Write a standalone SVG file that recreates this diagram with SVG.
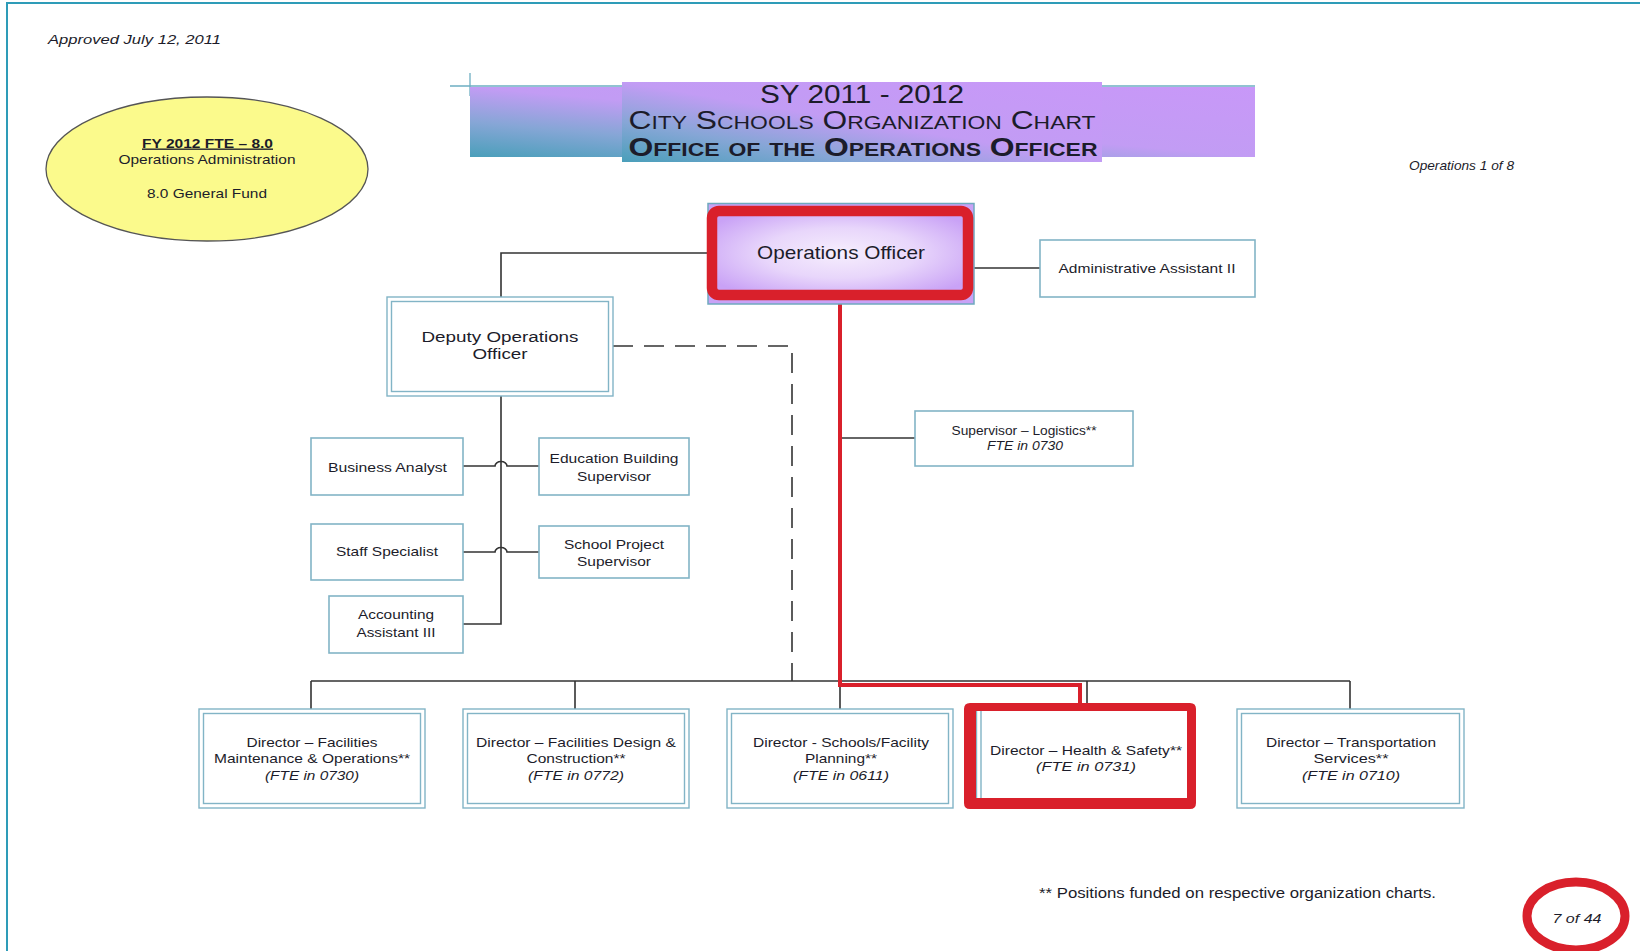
<svg xmlns="http://www.w3.org/2000/svg" width="1640" height="951" viewBox="0 0 1640 951">
<defs>
<linearGradient id="banner" x1="0" y1="1" x2="1" y2="0">
<stop offset="0" stop-color="#4a9fba"/>
<stop offset="0.25" stop-color="#86a6d6"/>
<stop offset="0.5" stop-color="#c29cf4"/>
<stop offset="1" stop-color="#c898f8"/>
</linearGradient>
<radialGradient id="opsfill" cx="0.5" cy="0.5" r="0.6">
<stop offset="0" stop-color="#f6eefd"/>
<stop offset="0.5" stop-color="#e8d6fb"/>
<stop offset="1" stop-color="#c9a2f6"/>
</radialGradient>
<style>
text{font-family:"Liberation Sans",Arial,sans-serif;fill:#1c1c2a;}
.t{font-size:13.5px;text-anchor:middle;}
.i{font-style:italic;}
.box{fill:#fff;stroke:#82b4c6;stroke-width:1.6;}
.dbl{fill:none;stroke:#82b4c6;stroke-width:1.4;}
.ln{fill:none;stroke:#333;stroke-width:1.6;}
.red{fill:none;stroke:#d9202b;}
</style>
</defs>
<rect width="1640" height="951" fill="#fff"/>
<!-- page border -->
<path d="M7,951 V3 H1640" fill="none" stroke="#2e9cb8" stroke-width="2"/>

<text x="48" y="43.5" class="i" font-size="13.5" textLength="173" lengthAdjust="spacingAndGlyphs">Approved July 12, 2011</text>
<text x="1409" y="170" class="i" font-size="13" textLength="105" lengthAdjust="spacingAndGlyphs">Operations 1 of 8</text>

<g id="fte-ellipse">
<ellipse cx="207" cy="169" rx="161" ry="72" fill="#fbfa8c" stroke="#555" stroke-width="1.3"/>
<text x="207.5" y="147.5" class="t" font-weight="bold" text-decoration="underline" textLength="131" lengthAdjust="spacingAndGlyphs">FY 2012 FTE – 8.0</text>
<text x="207" y="164" class="t" textLength="177" lengthAdjust="spacingAndGlyphs">Operations Administration</text>
<text x="207" y="198" class="t" textLength="120" lengthAdjust="spacingAndGlyphs">8.0 General Fund</text>
</g>

<g id="title">
<path d="M450,86 H1255 M470,73 V96" fill="none" stroke="#6eaec2" stroke-width="1.3"/>
<rect x="470" y="87" width="785" height="70" fill="url(#banner)"/>
<rect x="622" y="82" width="480" height="80" fill="url(#banner)"/>
<text x="862" y="102.5" font-size="25" text-anchor="middle" textLength="204" lengthAdjust="spacingAndGlyphs">SY 2011 - 2012</text>
<text x="862" y="128.5" font-size="25" text-anchor="middle" font-variant="small-caps" textLength="467" lengthAdjust="spacingAndGlyphs">City Schools Organization Chart</text>
<text x="863" y="156" font-size="25" font-weight="bold" text-anchor="middle" font-variant="small-caps" textLength="469" lengthAdjust="spacingAndGlyphs">Office of the Operations Officer</text>
</g>

<g id="connectors">
<path class="ln" d="M707,253 H501 V297"/>
<path class="ln" d="M974,268 H1040"/>
<path class="ln" d="M501,396 V624 H463"/>
<path class="ln" d="M463,466 H495 a6,4.5 0 0 1 12,0 H539"/>
<path class="ln" d="M463,552 H495 a6,4.5 0 0 1 12,0 H539"/>
<path class="ln" d="M840,438 H915"/>
<path class="ln" d="M613,346 H792 V681" stroke-dasharray="20,11"/>
<path class="ln" d="M311,681 H1350 M311,681 V709 M575,681 V709 M840,681 V709 M1087,681 V704 M1350,681 V709"/>
<path class="red" stroke-width="4" d="M840,300 V685 H1080 V704"/>
</g>

<g id="ops-officer">
<rect x="708" y="203.5" width="266" height="100.5" fill="#c9a2f6" stroke="#6fa9bf" stroke-width="1.5"/>
<rect x="712" y="211" width="256" height="84" rx="7" fill="url(#opsfill)" stroke="#d9202b" stroke-width="10.5"/>
<text x="841" y="259" font-size="19" text-anchor="middle" textLength="168" lengthAdjust="spacingAndGlyphs">Operations Officer</text>
</g>

<g id="admin-assistant">
<rect class="box" x="1040" y="240" width="215" height="57"/>
<text x="1147" y="273" class="t" textLength="177" lengthAdjust="spacingAndGlyphs">Administrative Assistant II</text>
</g>

<g id="deputy">
<rect class="dbl" x="387" y="297" width="226" height="99"/>
<rect class="dbl" x="391.5" y="301.5" width="217" height="90"/>
<text x="500" y="342" font-size="15.5" text-anchor="middle" textLength="157" lengthAdjust="spacingAndGlyphs">Deputy Operations</text>
<text x="500" y="359" font-size="15.5" text-anchor="middle" textLength="55" lengthAdjust="spacingAndGlyphs">Officer</text>
</g>

<g id="logistics">
<rect class="box" x="915" y="411" width="218" height="55"/>
<text x="1024" y="435" font-size="12.5" text-anchor="middle" textLength="145" lengthAdjust="spacingAndGlyphs">Supervisor – Logistics**</text>
<text x="1025" y="450" font-size="12.5" text-anchor="middle" class="i" textLength="76" lengthAdjust="spacingAndGlyphs">FTE in 0730</text>
</g>

<g id="business-analyst">
<rect class="box" x="311" y="438" width="152" height="57"/>
<text x="387.5" y="472" class="t" textLength="119" lengthAdjust="spacingAndGlyphs">Business Analyst</text>
</g>

<g id="edu-building">
<rect class="box" x="539" y="438" width="150" height="57"/>
<text x="614" y="463" class="t" textLength="129" lengthAdjust="spacingAndGlyphs">Education Building</text>
<text x="614" y="481" class="t" textLength="74" lengthAdjust="spacingAndGlyphs">Supervisor</text>
</g>

<g id="staff-specialist">
<rect class="box" x="311" y="524" width="152" height="56"/>
<text x="387" y="556" class="t" textLength="102" lengthAdjust="spacingAndGlyphs">Staff Specialist</text>
</g>

<g id="school-project">
<rect class="box" x="539" y="526" width="150" height="52"/>
<text x="614" y="549" class="t" textLength="100" lengthAdjust="spacingAndGlyphs">School Project</text>
<text x="614" y="566" class="t" textLength="74" lengthAdjust="spacingAndGlyphs">Supervisor</text>
</g>

<g id="accounting">
<rect class="box" x="329" y="596" width="134" height="57"/>
<text x="396" y="619" class="t" textLength="76" lengthAdjust="spacingAndGlyphs">Accounting</text>
<text x="396" y="637" class="t" textLength="79" lengthAdjust="spacingAndGlyphs">Assistant III</text>
</g>

<g id="dir-facilities">
<rect class="dbl" x="199" y="709" width="226" height="99"/>
<rect class="dbl" x="203.5" y="713.5" width="217" height="90"/>
<text x="312" y="747" class="t" textLength="131" lengthAdjust="spacingAndGlyphs">Director – Facilities</text>
<text x="312" y="763" class="t" textLength="196" lengthAdjust="spacingAndGlyphs">Maintenance &amp; Operations**</text>
<text x="312" y="780" class="t i" textLength="94" lengthAdjust="spacingAndGlyphs">(FTE in 0730)</text>
</g>

<g id="dir-design">
<rect class="dbl" x="463" y="709" width="226" height="99"/>
<rect class="dbl" x="467.5" y="713.5" width="217" height="90"/>
<text x="576" y="747" class="t" textLength="200" lengthAdjust="spacingAndGlyphs">Director – Facilities Design &amp;</text>
<text x="576" y="763" class="t" textLength="99" lengthAdjust="spacingAndGlyphs">Construction**</text>
<text x="576" y="780" class="t i" textLength="96" lengthAdjust="spacingAndGlyphs">(FTE in 0772)</text>
</g>

<g id="dir-planning">
<rect class="dbl" x="727" y="709" width="226" height="99"/>
<rect class="dbl" x="731.5" y="713.5" width="217" height="90"/>
<text x="841" y="747" class="t" textLength="176" lengthAdjust="spacingAndGlyphs">Director - Schools/Facility</text>
<text x="841" y="763" class="t" textLength="72" lengthAdjust="spacingAndGlyphs">Planning**</text>
<text x="841" y="780" class="t i" textLength="96" lengthAdjust="spacingAndGlyphs">(FTE in 0611)</text>
</g>

<g id="dir-health">
<rect x="970" y="705" width="222" height="100" fill="#fff"/>
<path class="dbl" d="M976.5,711 V798 M981,711 V798"/>
<path fill="#d9202b" fill-rule="evenodd" d="M970,703 H1190 Q1196,703 1196,709 V803 Q1196,809 1190,809 H970 Q964,809 964,803 V709 Q964,703 970,703 Z M976,711 V798 H1187 V711 Z"/>
<text x="1086" y="755" class="t" textLength="192" lengthAdjust="spacingAndGlyphs">Director – Health &amp; Safety**</text>
<text x="1086" y="771" class="t i" textLength="100" lengthAdjust="spacingAndGlyphs">(FTE in 0731)</text>
</g>

<g id="dir-transport">
<rect class="dbl" x="1237" y="709" width="227" height="99"/>
<rect class="dbl" x="1241.5" y="713.5" width="218" height="90"/>
<text x="1351" y="747" class="t" textLength="170" lengthAdjust="spacingAndGlyphs">Director – Transportation</text>
<text x="1351" y="763" class="t" textLength="75" lengthAdjust="spacingAndGlyphs">Services**</text>
<text x="1351" y="780" class="t i" textLength="98" lengthAdjust="spacingAndGlyphs">(FTE in 0710)</text>
</g>

<text x="1039" y="898" font-size="14" textLength="397" lengthAdjust="spacingAndGlyphs">** Positions funded on respective organization charts.</text>

<g id="page-number">
<ellipse cx="1576" cy="916" rx="49" ry="34" fill="none" stroke="#d9202b" stroke-width="9"/>
<text x="1577" y="923" class="i" font-size="13" text-anchor="middle" textLength="49" lengthAdjust="spacingAndGlyphs">7 of 44</text>
</g>
</svg>
